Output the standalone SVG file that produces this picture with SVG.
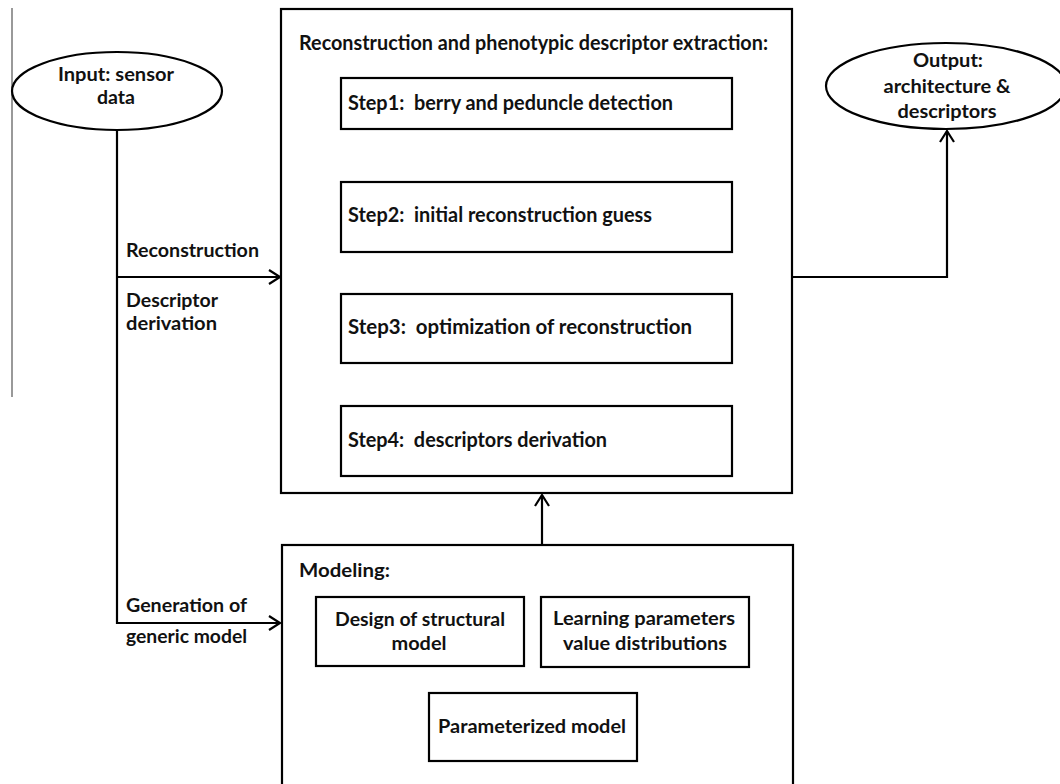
<svg xmlns="http://www.w3.org/2000/svg" width="1060" height="784" viewBox="0 0 1060 784">
<defs>
<marker id="arr" markerUnits="userSpaceOnUse" markerWidth="14" markerHeight="16" refX="12" refY="8" orient="auto" overflow="visible">
<path d="M1,1 L12,8 L1,15" fill="none" stroke="#000" stroke-width="2.2"/>
</marker>
<style>
.box{fill:#fff;stroke:#000;stroke-width:2.2}
.ln{fill:none;stroke:#000;stroke-width:2.2}
.t{font-family:Lato,"Open Sans","Liberation Sans",sans-serif;font-weight:bold;font-size:19px;fill:#111}
.tl{font-family:Lato,"Open Sans","Liberation Sans",sans-serif;font-weight:bold;font-size:20px;fill:#111}
.c{text-anchor:middle}
</style>
</defs>
<rect width="1060" height="784" fill="#fff"/>
<line x1="12" y1="8" x2="12" y2="397" stroke="#555" stroke-width="1.2"/>

<g id="connectors">
<polyline class="ln" points="117,130 117,623 280,623" marker-end="url(#arr)"/>
<line class="ln" x1="117" y1="277" x2="280" y2="277" marker-end="url(#arr)"/>
<polyline class="ln" points="792,277 947,277 947,131" marker-end="url(#arr)"/>
<line class="ln" x1="542" y1="545" x2="542" y2="495" marker-end="url(#arr)"/>
<line class="ln" x1="542" y1="129" x2="542" y2="181" marker-end="url(#arr)"/>
<line class="ln" x1="542" y1="252" x2="542" y2="293" marker-end="url(#arr)"/>
<line class="ln" x1="542" y1="363" x2="542" y2="405" marker-end="url(#arr)"/>
</g>
<g id="labels">
<text class="t" x="126" y="257" textLength="133" lengthAdjust="spacingAndGlyphs">Reconstruction</text>
<text class="t" x="126" y="307" textLength="92" lengthAdjust="spacingAndGlyphs">Descriptor</text>
<text class="t" x="126" y="330" textLength="91" lengthAdjust="spacingAndGlyphs">derivation</text>
<text class="t" x="126" y="612" textLength="121" lengthAdjust="spacingAndGlyphs">Generation of</text>
<text class="t" x="126" y="643" textLength="121" lengthAdjust="spacingAndGlyphs">generic model</text>
</g>

<g id="input">
<ellipse class="box" cx="117" cy="91" rx="105" ry="39"/>
<text class="t c" x="116" y="81" textLength="116" lengthAdjust="spacingAndGlyphs">Input: sensor</text>
<text class="t c" x="116" y="104" textLength="38" lengthAdjust="spacingAndGlyphs">data</text>
</g>

<g id="output">
<ellipse class="box" cx="946" cy="86" rx="120" ry="43"/>
<text class="t c" x="948" y="67" textLength="70" lengthAdjust="spacingAndGlyphs">Output:</text>
<text class="t c" x="947" y="93" textLength="127" lengthAdjust="spacingAndGlyphs">architecture &amp;</text>
<text class="t c" x="947" y="118" textLength="99" lengthAdjust="spacingAndGlyphs">descriptors</text>
</g>

<g id="reconstruction">
<rect class="box" x="281" y="9" width="511" height="484"/>
<text class="tl" x="299" y="50" textLength="469" lengthAdjust="spacingAndGlyphs">Reconstruction and phenotypic descriptor extraction:</text>
</g>
<g id="step1">
<rect class="box" x="341" y="78" width="391" height="51"/>
<text class="tl" x="348" y="110" textLength="325" lengthAdjust="spacingAndGlyphs">Step1:&#160; berry and peduncle detection</text>
</g>
<g id="step2">
<rect class="box" x="341" y="182" width="391" height="70"/>
<text class="tl" x="348" y="222" textLength="304" lengthAdjust="spacingAndGlyphs">Step2:&#160; initial reconstruction guess</text>
</g>
<g id="step3">
<rect class="box" x="341" y="294" width="391" height="69"/>
<text class="tl" x="348" y="334" textLength="344" lengthAdjust="spacingAndGlyphs">Step3:&#160; optimization of reconstruction</text>
</g>
<g id="step4">
<rect class="box" x="341" y="406" width="391" height="70"/>
<text class="tl" x="348" y="447" textLength="259" lengthAdjust="spacingAndGlyphs">Step4:&#160; descriptors derivation</text>
</g>

<g id="modeling">
<rect class="box" x="282" y="545" width="511" height="250"/>
<text class="t" x="299" y="577" textLength="91" lengthAdjust="spacingAndGlyphs">Modeling:</text>
</g>
<g id="design">
<rect class="box" x="316" y="597" width="208" height="69"/>
<text class="t c" x="420" y="626" textLength="170" lengthAdjust="spacingAndGlyphs">Design of structural</text>
<text class="t c" x="419" y="650" textLength="55" lengthAdjust="spacingAndGlyphs">model</text>
</g>
<g id="learning">
<rect class="box" x="541" y="597" width="208" height="70"/>
<text class="t c" x="644" y="625" textLength="182" lengthAdjust="spacingAndGlyphs">Learning parameters</text>
<text class="t c" x="645" y="650" textLength="164" lengthAdjust="spacingAndGlyphs">value distributions</text>
</g>
<g id="parameterized">
<rect class="box" x="429" y="693" width="208" height="68"/>
<text class="t c" x="532" y="733" textLength="188" lengthAdjust="spacingAndGlyphs">Parameterized model</text>
</g>
</svg>
